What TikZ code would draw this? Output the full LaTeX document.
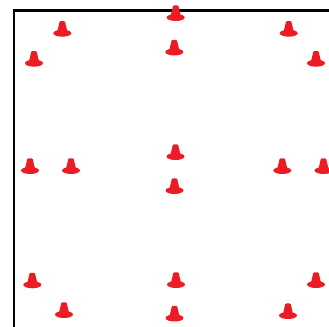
\documentclass[tikz,border=0pt]{standalone}
\definecolor{conered}{RGB}{237,28,36}
\tikzset{
  x=0.75pt,y=-0.75pt,
  cone/.pic={
    \fill[conered,rounded corners=0.6] (-2.6,-15.5) -- (2.6,-15.5) -- (4.6,-7)
      .. controls (5,-5.5) and (6,-4.5) .. (8,-3) -- (-8,-3)
      .. controls (-6,-4.5) and (-5,-5.5) .. (-4.6,-7) -- cycle;
    \fill[conered] (0,-3.5) ellipse [x radius=9,y radius=3.5];
  },
  frameline/.style={draw=black,line width=2pt}
}
\begin{document}
\begin{tikzpicture}
\useasboundingbox (0,0) rectangle (329,327);
\fill[white] (0,0) rectangle (329,327);
\draw[frameline] (14,327) -- (14,10.3) -- (329,10.3);
\foreach \x/\y in {
  62.3/36.7, 34/66.7, 175.7/21, 174.3/55.5, 288.7/36.7, 316/66.7,
  30/174, 71/174, 175.5/160, 174.5/194, 282.3/174, 323.5/174,
  32.3/288.3, 64/318, 176/288, 174.5/321.5, 316/288, 288/319}
  \pic at (\x,\y) {cone};
\end{tikzpicture}
\end{document}
